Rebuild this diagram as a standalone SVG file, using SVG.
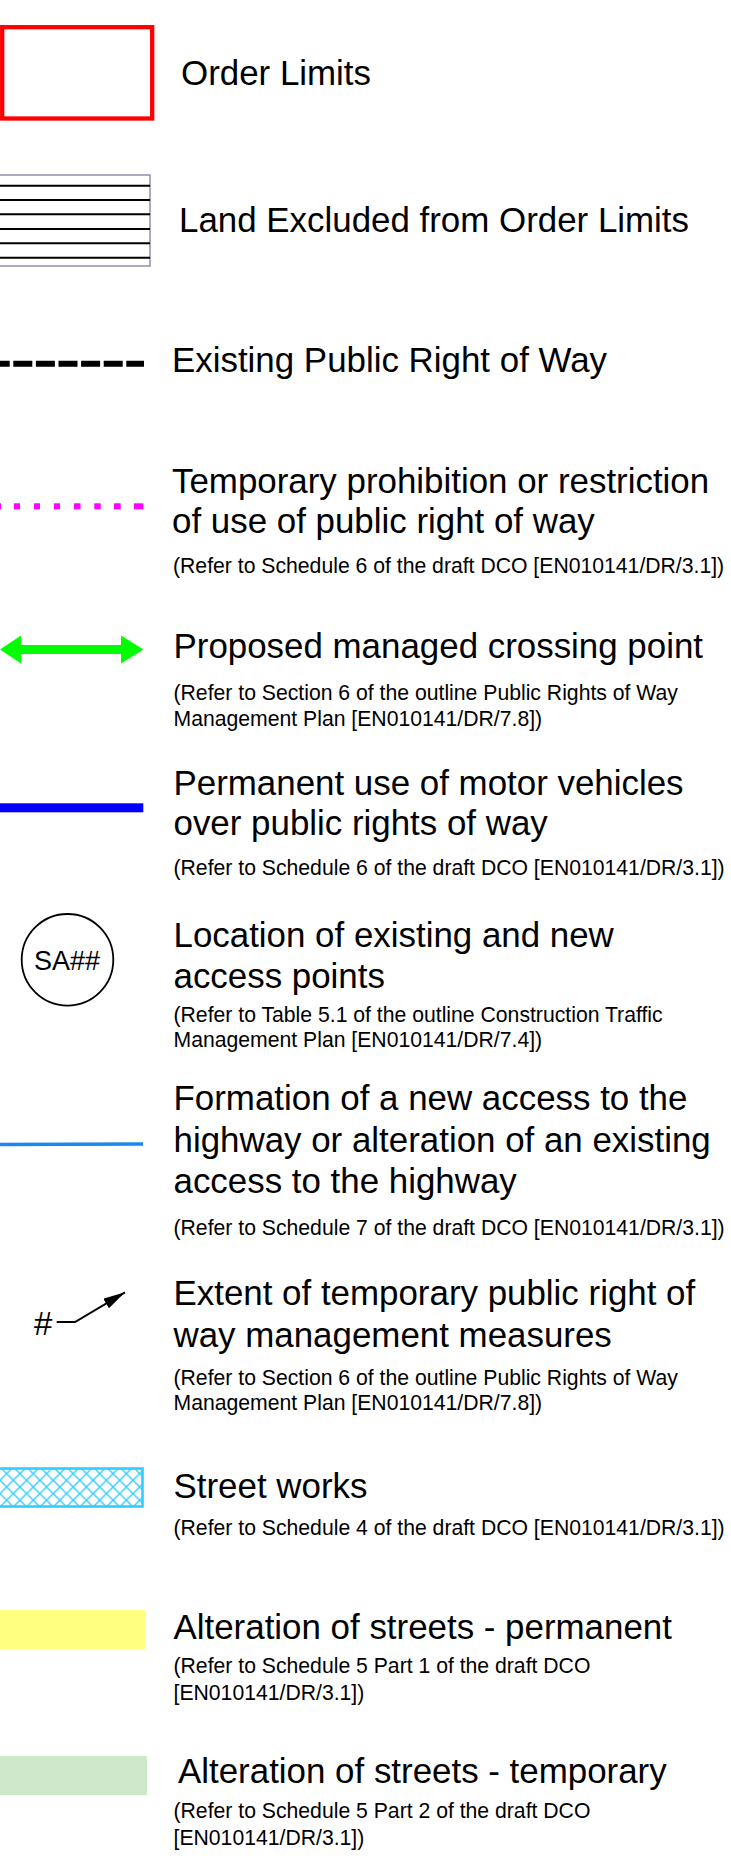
<svg xmlns="http://www.w3.org/2000/svg" width="731" height="1866" viewBox="0 0 731 1866">
<style>
.t{font-family:"Liberation Sans",Arial,sans-serif;font-size:34.9px;fill:#000}
.s{font-family:"Liberation Sans",Arial,sans-serif;font-size:21.2px;fill:#000}
</style>
<defs>
<pattern id="hatch" patternUnits="userSpaceOnUse" x="0" y="1467" width="13.3" height="13.3">
<path d="M0,0 L13.3,13.3 M13.3,0 L0,13.3" stroke="#33ccff" stroke-width="1.4" fill="none"/>
</pattern>
<marker id="ah" markerUnits="userSpaceOnUse" viewBox="0 0 22 11" refX="22" refY="5.5" markerWidth="22" markerHeight="11" orient="auto">
<path d="M0,0 L22,5.5 L0,11 Z" fill="#000"/>
</marker>
</defs>
<rect width="731" height="1866" fill="#fff"/>

<g id="order-limits">
<rect x="2.2" y="27.2" width="150" height="91.3" fill="none" stroke="#ff0000" stroke-width="4.3"/>
<text class="t" x="181" y="85">Order Limits</text>
</g>

<g id="land-excluded">
<rect x="-1" y="175" width="151" height="91" fill="none" stroke="#7f7fa0" stroke-width="1.3"/>
<g stroke="#000" stroke-width="2">
<line x1="0" y1="185.7" x2="150" y2="185.7"/>
<line x1="0" y1="200" x2="150" y2="200"/>
<line x1="0" y1="214.3" x2="150" y2="214.3"/>
<line x1="0" y1="229" x2="150" y2="229"/>
<line x1="0" y1="243.3" x2="150" y2="243.3"/>
<line x1="0" y1="257.7" x2="150" y2="257.7"/>
</g>
<text class="t" x="179" y="232">Land Excluded from Order Limits</text>
</g>

<g id="existing-prow">
<line x1="0" y1="363.7" x2="144" y2="363.7" stroke="#000" stroke-width="6" stroke-dasharray="19 3.6" stroke-dashoffset="9.3"/>
<text class="t" x="172" y="372">Existing Public Right of Way</text>
</g>

<g id="temporary-prohibition">
<g fill="#ff00ff">
<rect x="0" y="503.3" width="1" height="6"/>
<rect x="14" y="503.3" width="6" height="6"/>
<rect x="34" y="503.3" width="6" height="6"/>
<rect x="54" y="503.3" width="6" height="6"/>
<rect x="74" y="503.3" width="6.5" height="6"/>
<rect x="94.3" y="503.3" width="6.4" height="6"/>
<rect x="114" y="503.3" width="6.7" height="6"/>
<rect x="134" y="503.3" width="9.3" height="6"/>
</g>
<text class="t" x="172" y="493">Temporary prohibition or restriction</text>
<text class="t" x="172" y="533">of use of public right of way</text>
<text class="s" x="173" y="573">(Refer to Schedule 6 of the draft DCO [EN010141/DR/3.1])</text>
</g>

<g id="managed-crossing">
<polygon points="0,649.5 21,635.5 21,645 121,645 121,635.5 143.5,649.5 121,663.5 121,654 21,654 21,663.5" fill="#00ff00"/>
<text class="t" x="173.5" y="658">Proposed managed crossing point</text>
<text class="s" x="173.5" y="700">(Refer to Section 6 of the outline Public Rights of Way</text>
<text class="s" x="173.5" y="726">Management Plan [EN010141/DR/7.8])</text>
</g>

<g id="motor-vehicles">
<rect x="0" y="803.3" width="143.3" height="9" fill="#0000ff"/>
<text class="t" x="173.5" y="795">Permanent use of motor vehicles</text>
<text class="t" x="173.5" y="835">over public rights of way</text>
<text class="s" x="173.5" y="875">(Refer to Schedule 6 of the draft DCO [EN010141/DR/3.1])</text>
</g>

<g id="access-points">
<circle cx="67.5" cy="959.8" r="45.8" fill="none" stroke="#000" stroke-width="1.8"/>
<text x="67" y="970" text-anchor="middle" font-family="Liberation Sans, Arial, sans-serif" font-size="27" fill="#000">SA##</text>
<text class="t" x="173.5" y="947">Location of existing and new</text>
<text class="t" x="173.5" y="988">access points</text>
<text class="s" x="173.5" y="1022">(Refer to Table 5.1 of the outline Construction Traffic</text>
<text class="s" x="173.5" y="1047">Management Plan [EN010141/DR/7.4])</text>
</g>

<g id="new-access">
<line x1="0" y1="1144.6" x2="143" y2="1144" stroke="#1a88f0" stroke-width="3.5"/>
<text class="t" x="173.5" y="1110">Formation of a new access to the</text>
<text class="t" x="173.5" y="1152">highway or alteration of an existing</text>
<text class="t" x="173.5" y="1193">access to the highway</text>
<text class="s" x="173.5" y="1235">(Refer to Schedule 7 of the draft DCO [EN010141/DR/3.1])</text>
</g>

<g id="prow-measures">
<text x="34" y="1335" font-family="Liberation Sans, Arial, sans-serif" font-size="33" fill="#000">#</text>
<polyline points="56.7,1322 75,1322 125,1292.3" fill="none" stroke="#000" stroke-width="2" marker-end="url(#ah)"/>
<text class="t" x="173.5" y="1305">Extent of temporary public right of</text>
<text class="t" x="173.5" y="1347">way management measures</text>
<text class="s" x="173.5" y="1385">(Refer to Section 6 of the outline Public Rights of Way</text>
<text class="s" x="173.5" y="1410">Management Plan [EN010141/DR/7.8])</text>
</g>

<g id="street-works">
<rect x="-2" y="1468.5" width="144.5" height="38" fill="url(#hatch)" stroke="#33ccff" stroke-width="2.6"/>
<text class="t" x="173.5" y="1498">Street works</text>
<text class="s" x="173.5" y="1535">(Refer to Schedule 4 of the draft DCO [EN010141/DR/3.1])</text>
</g>

<g id="alteration-permanent">
<rect x="0" y="1610" width="145" height="40" fill="#ffff80"/>
<text class="t" x="173.5" y="1639">Alteration of streets - permanent</text>
<text class="s" x="173.5" y="1673">(Refer to Schedule 5 Part 1 of the draft DCO</text>
<text class="s" x="173.5" y="1700">[EN010141/DR/3.1])</text>
</g>

<g id="alteration-temporary">
<rect x="0" y="1756" width="147" height="39" fill="#cfe8cb"/>
<text class="t" x="178" y="1783">Alteration of streets - temporary</text>
<text class="s" x="173.5" y="1818">(Refer to Schedule 5 Part 2 of the draft DCO</text>
<text class="s" x="173.5" y="1845">[EN010141/DR/3.1])</text>
</g>
</svg>
